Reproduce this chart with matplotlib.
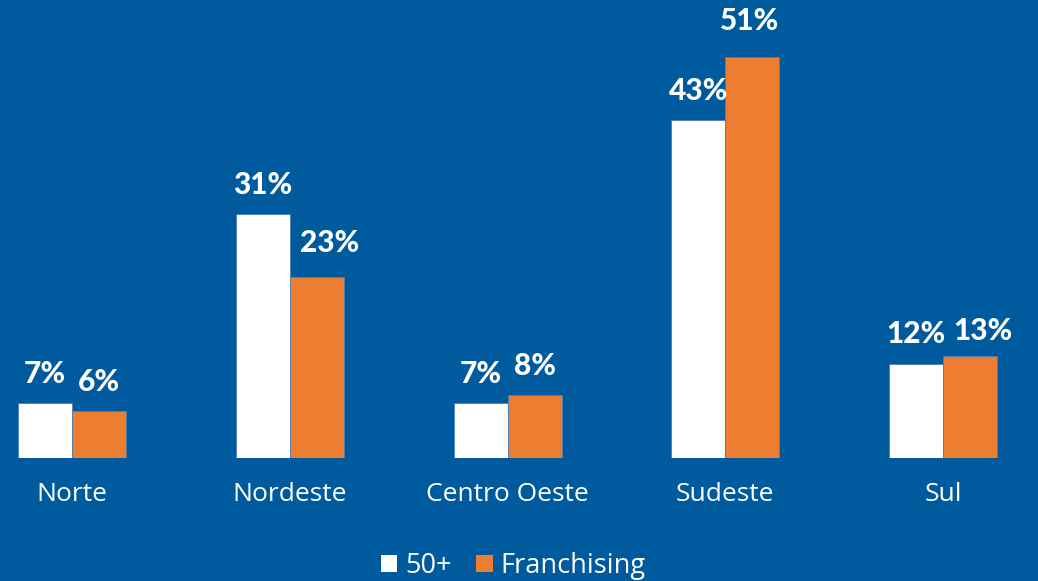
import numpy as np
import matplotlib.pyplot as plt
from matplotlib.patches import Patch

regions = ["Norte", "Nordeste", "Centro Oeste", "Sudeste", "Sul"]
vals_50 = [7, 31, 7, 43, 12]
vals_franq = [6, 23, 8, 51, 13]
series_names = ["50+", "Franchising"]

bg = "#005a9e"
white = "#ffffff"
orange = "#ed7d31"

# label nudges (points) per bar, as placed in the original
nudge_50 = [(0, 0), (0, 0), (0, 0), (0, 0), (0, 0)]
nudge_franq = [(0, 0), (9.5, 3.5), (0, 0), (-2, 5), (9.5, -3)]

fig = plt.figure(figsize=(10.38, 5.81), dpi=100, facecolor=bg)
ax = fig.add_axes([0, 123 / 581, 1, 458 / 581])
ax.set_facecolor(bg)

x = np.arange(len(regions))
w = 0.248
b1 = ax.bar(x - w / 2, vals_50, w, color=white, edgecolor="#4a7fb5", linewidth=0.6)
b2 = ax.bar(x + w / 2, vals_franq, w, color=orange, edgecolor="#4a7fb5", linewidth=0.6)

for bars, nudges in ((b1, nudge_50), (b2, nudge_franq)):
    for r, (dx, dy) in zip(bars, nudges):
        ax.annotate(f"{int(r.get_height())}%",
                    (r.get_x() + r.get_width() / 2, r.get_height()),
                    xytext=(dx, 11 + dy), textcoords="offset points",
                    ha="center", va="bottom", color="white",
                    fontsize=21.5, fontweight="black", family="Lato")

ax.set_xlim(-0.331, 4.436)
ax.set_ylim(0, 58.27)
for s in ax.spines.values():
    s.set_visible(False)
ax.set_yticks([])
ax.set_xticks(x)
ax.set_xticklabels(regions, color="white", fontsize=19, family="Open Sans")
ax.tick_params(axis="x", length=0, pad=17)

handles = [Patch(facecolor=white), Patch(facecolor=orange)]
leg = fig.legend(handles, series_names, loc="lower center", ncol=2, frameon=False,
                 bbox_to_anchor=(0.4947, -0.04), handlelength=0.6, handleheight=0.6,
                 handletextpad=0.3, columnspacing=0.9,
                 prop={"family": "Open Sans", "size": 19.5})
for t in leg.get_texts():
    t.set_color("white")

fig.savefig("out.png", dpi=100, facecolor=bg)
